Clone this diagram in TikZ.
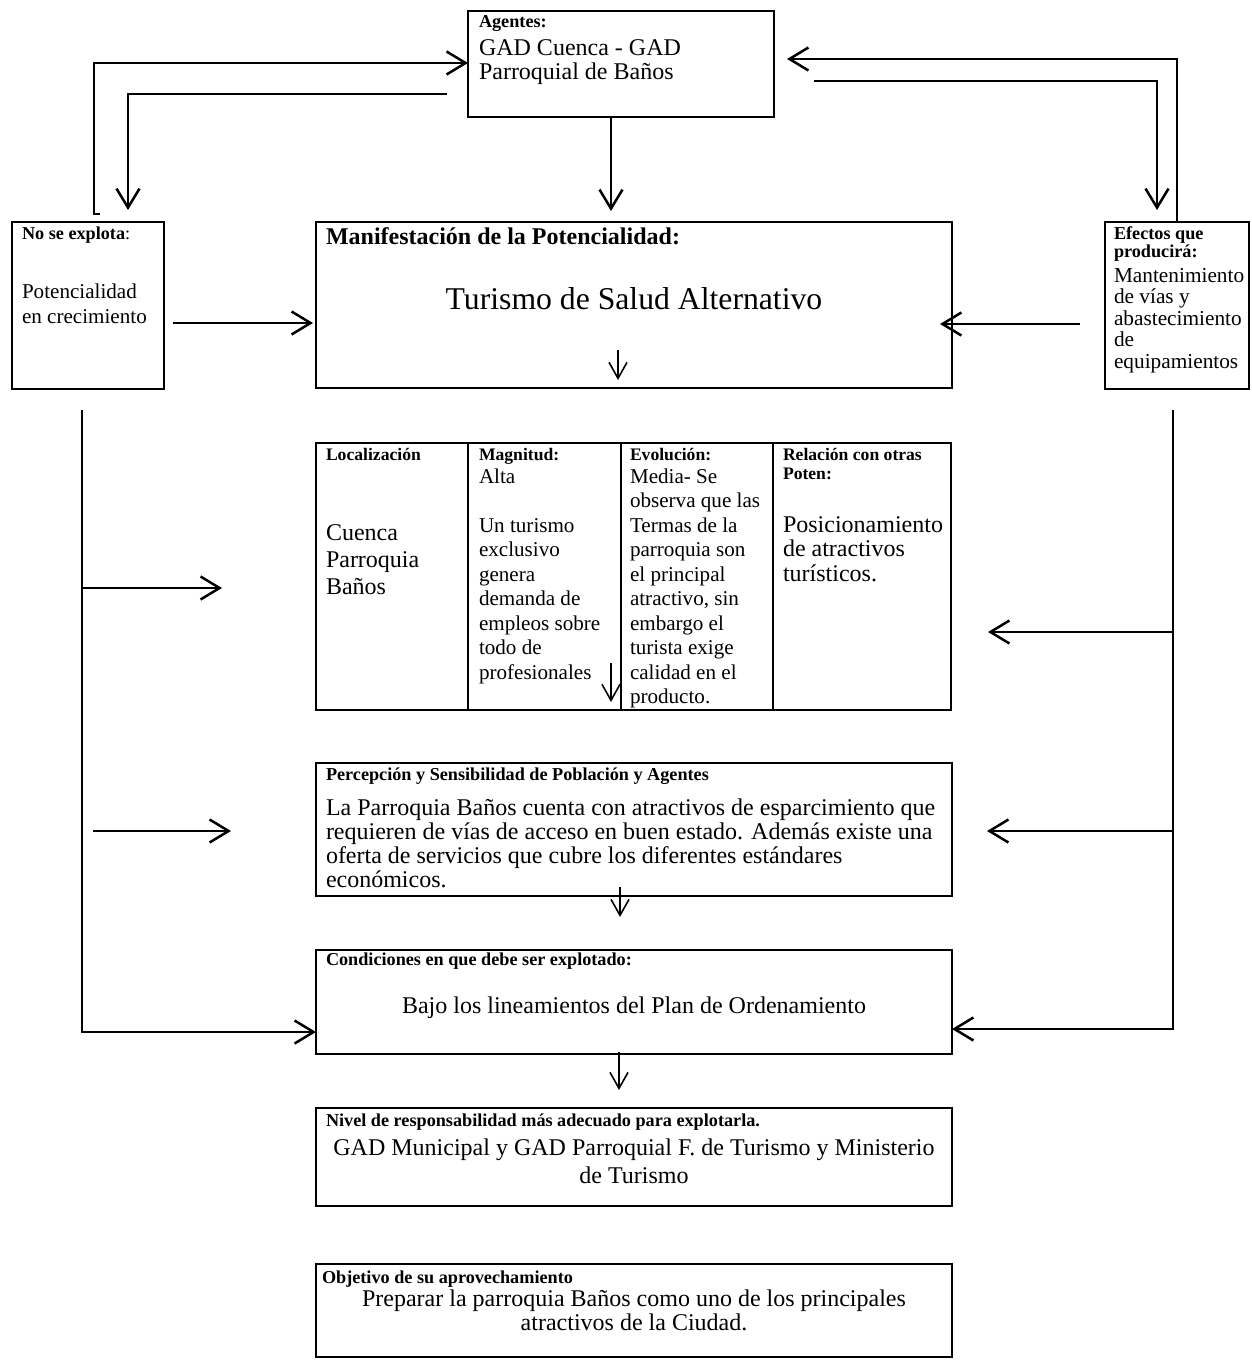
\documentclass[tikz,border=0pt]{standalone}
\usepackage{fontspec}
\setmainfont{Liberation Serif}
\usetikzlibrary{arrows.meta,calc}
\newcommand\FB{\fontsize{18.2}{20}\selectfont\bfseries}
\newcommand\FBT{\fontsize{17.6}{20}\selectfont\bfseries}
\newcommand\FN{\fontsize{24}{24}\selectfont}
\newcommand\FS{\fontsize{21.1}{24}\selectfont}
\newcommand\FE{\fontsize{21.3}{22}\selectfont}
\newcommand\FBIG{\fontsize{31.7}{34}\selectfont}
\newcommand\FBH{\fontsize{24}{26}\selectfont\bfseries}
\begin{document}
\begin{tikzpicture}[x=1pt,y=-1pt,
  box/.style={draw,line width=2.5pt,anchor=north west,inner sep=0pt,outer sep=0pt},
  conn/.style={line width=2.5pt,-{Straight Barb[length=19pt,width=23pt]}},
  plain/.style={line width=2.5pt},
  thin/.style={line width=1.6pt,-{Straight Barb[length=16pt,width=18pt]}},
  tl/.style={anchor=base west,inner sep=0pt,outer sep=0pt},
  tc/.style={anchor=base,inner sep=0pt,outer sep=0pt}]
\useasboundingbox (0,0) rectangle (1251,1372);

% boxes
\node[box,minimum width=306pt,minimum height=106pt] (agentes) at (468,11) {};
\node[box,minimum width=152pt,minimum height=167pt] (nse) at (12,222) {};
\node[box,minimum width=636pt,minimum height=166pt] (manif) at (316,222) {};
\node[box,minimum width=144pt,minimum height=167pt] (efectos) at (1105,222) {};
\node[box,minimum width=635pt,minimum height=267pt] (tabla) at (316,443) {};
\node[box,minimum width=636pt,minimum height=133pt] (percep) at (316,763) {};
\node[box,minimum width=636pt,minimum height=104pt] (cond) at (316,950) {};
\node[box,minimum width=636pt,minimum height=98pt] (nivel) at (316,1108) {};
\node[box,minimum width=636pt,minimum height=93pt] (obj) at (316,1264) {};
% table columns
\draw[plain] (468,443) -- (468,710);
\draw[plain] (621,443) -- (621,710);
\draw[plain] (773,443) -- (773,710);

% texts: Agentes
\node[tl] (ag1) at (479,28) {\FB Agentes:};
\node[tl] (ag2) at (479,56) {\FN GAD Cuenca - GAD};
\node[tl] (ag3) at (479,80) {\FN Parroquial de Baños};
% No se explota
\node[tl] (ns1) at (22,240) {\FB No se explota\mdseries:};
\node[tl] (ns2) at (22,298) {\FS Potencialidad};
\node[tl] (ns3) at (22,323) {\FS en crecimiento};
% Manifestacion
\node[tl] (mf1) at (326,244) {\FBH Manifestación de la Potencialidad:};
\node[tc] (mf2) at (634,309) {\FBIG Turismo de Salud Alternativo};
% Efectos
\node[tl] (ef1) at (1114,240) {\FB Efectos que};
\node[tl] (ef2) at (1114,258) {\FB producirá:};
\node[tl] (ef3) at (1114,282) {\FE Mantenimiento};
\node[tl] (ef4) at (1114,303.5) {\FE de vías y};
\node[tl] (ef5) at (1114,325) {\FE abastecimiento};
\node[tl] (ef6) at (1114,346.5) {\FE de};
\node[tl] (ef7) at (1114,368) {\FE equipamientos};
% Table: Localizacion
\node[tl] (lo1) at (326,460) {\FBT Localización};
\node[tl] (lo2) at (326,540) {\FN Cuenca};
\node[tl] (lo3) at (326,567) {\FN Parroquia};
\node[tl] (lo4) at (326,594) {\FN Baños};
% Magnitud
\node[tl] (mg1) at (479,460) {\FBT Magnitud:};
\node[tl] (mg2) at (479,483) {\FS Alta};
\node[tl] (mg3) at (479,532) {\FS Un turismo};
\node[tl] (mg4) at (479,556.5) {\FS exclusivo};
\node[tl] (mg5) at (479,581) {\FS genera};
\node[tl] (mg6) at (479,605.5) {\FS demanda de};
\node[tl] (mg7) at (479,630) {\FS empleos sobre};
\node[tl] (mg8) at (479,654.5) {\FS todo de};
\node[tl] (mg9) at (479,679) {\FS profesionales};
% Evolucion
\node[tl] (ev1) at (630,460) {\FBT Evolución:};
\node[tl] (ev2) at (630,483) {\FS Media- Se};
\node[tl] (ev3) at (630,507.5) {\FS observa que las};
\node[tl] (ev4) at (630,532) {\FS Termas de la};
\node[tl] (ev5) at (630,556.5) {\FS parroquia son};
\node[tl] (ev6) at (630,581) {\FS el principal};
\node[tl] (ev7) at (630,605.5) {\FS atractivo, sin};
\node[tl] (ev8) at (630,630) {\FS embargo el};
\node[tl] (ev9) at (630,654.5) {\FS turista exige};
\node[tl] (ev10) at (630,679) {\FS calidad en el};
\node[tl] (ev11) at (630,703.5) {\FS producto.};
% Relacion
\node[tl] (re1) at (783,460) {\FBT Relación con otras};
\node[tl] (re2) at (783,479) {\FBT Poten:};
\node[tl] (re3) at (783,532) {\FN Posicionamiento};
\node[tl] (re4) at (783,556.5) {\FN de atractivos};
\node[tl] (re5) at (783,581) {\FN turísticos.};
% Percepcion
\node[tl] (pc1) at (326,780) {\FB Percepción y Sensibilidad de Población y Agentes};
\node[tl] (pc2) at (326,815) {\FN La Parroquia Baños cuenta con atractivos de esparcimiento que};
\node[tl] (pc3) at (326,839) {\FN requieren de vías de acceso en buen estado. Además existe una};
\node[tl] (pc4) at (326,863) {\FN oferta de servicios que cubre los diferentes estándares};
\node[tl] (pc5) at (326,887) {\FN económicos.};
% Condiciones
\node[tl] (cd1) at (326,965) {\FB Condiciones en que debe ser explotado:};
\node[tc] (cd2) at (634,1013) {\FN Bajo los lineamientos del Plan de Ordenamiento};
% Nivel
\node[tl] (nv1) at (326,1126) {\FB Nivel de responsabilidad más adecuado para explotarla.};
\node[tc] (nv2) at (634,1155) {\FN GAD Municipal y GAD Parroquial F. de Turismo y Ministerio};
\node[tc] (nv3) at (634,1183) {\FN de Turismo};
% Objetivo
\node[tl] (ob1) at (322,1283) {\FB Objetivo de su aprovechamiento};
\node[tc] (ob2) at (634,1306) {\FN Preparar la parroquia Baños como uno de los principales};
\node[tc] (ob3) at (634,1330) {\FN atractivos de la Ciudad.};

% coordinates for connector ends
\coordinate (l1a) at (100,214);
\coordinate (l1b) at (94,214);
\coordinate (l1c) at (94,63);
\coordinate (l2a) at (447,94);
\coordinate (l2b) at (128,94);
\coordinate (l2c) at (128,210);
\coordinate (am) at (611,211);
\coordinate (r1b) at (1177,59);
\coordinate (r1e) at (787,59);
\coordinate (r2a) at (814,81);
\coordinate (r2b) at (1157,81);
\coordinate (r2c) at (1157,210);
\coordinate (nm1) at (173,323);
\coordinate (nm2) at (313,323);
\coordinate (em1) at (1080,324);
\coordinate (em2) at (940,324);
\coordinate (s1a) at (618,350);
\coordinate (s1b) at (618,380);
\coordinate (s2a) at (611,663);
\coordinate (s2b) at (611,702);
\coordinate (s3a) at (620,887);
\coordinate (s3b) at (620,917);
\coordinate (s4a) at (619,1052);
\coordinate (s4b) at (619,1090);
\coordinate (lsa) at (82,410);
\coordinate (lsb) at (82,1032);
\coordinate (lb1a) at (82,588);
\coordinate (lb1b) at (222,588);
\coordinate (lb2a) at (93,831);
\coordinate (lb2b) at (231,831);
\coordinate (rsa) at (1173,410);
\coordinate (rsb) at (1173,1029);
\coordinate (rb1a) at (1173,632);
\coordinate (rb1b) at (988,632);
\coordinate (rb2a) at (1173,831);
\coordinate (rb2b) at (987,831);

% connectors
\draw[conn] (l1a) -- (l1b) -- (l1c) -- (l1c -| agentes.west);
\draw[conn] (l2a) -- (l2b) -- (l2c);
\draw[conn] (agentes.south -| am) -- (am);
\draw[conn] (efectos.north) -- (r1b) -- (r1e);
\draw[conn] (r2a) -- (r2b) -- (r2c);
\draw[conn] (nm1) -- (nm2);
\draw[conn] (em1) -- (em2);
\draw[thin] (s1a) -- (s1b);
\draw[thin] (s2a) -- (s2b);
\draw[thin] (s3a) -- (s3b);
\draw[thin] (s4a) -- (s4b);
\draw[conn] (lsa) -- (lsb) -- (lsb -| cond.west);
\draw[conn] (lb1a) -- (lb1b);
\draw[conn] (lb2a) -- (lb2b);
\draw[conn] (rsa) -- (rsb) -- (rsb -| cond.east);
\draw[conn] (rb1a) -- (rb1b);
\draw[conn] (rb2a) -- (rb2b);
\end{tikzpicture}
\end{document}
